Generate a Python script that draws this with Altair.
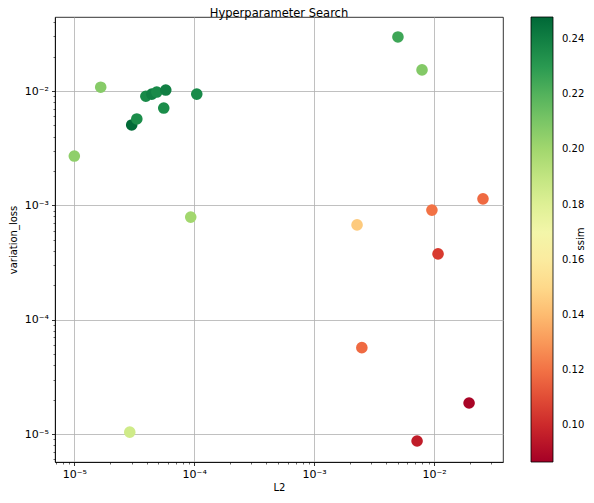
import altair as alt
import pandas as pd

# Data
l2 = [1.0e-5, 1.66e-5, 3.01e-5, 3.32e-5, 3.95e-5, 4.43e-5, 4.87e-5, 5.79e-5, 5.57e-5,
      1.05e-4, 9.35e-5, 2.9e-5, 5.0e-3, 7.94e-3, 2.28e-3, 9.6e-3, 2.56e-2, 1.08e-2,
      2.5e-3, 7.22e-3, 1.96e-2]
variation_loss = [2.7e-3, 1.08e-2, 5.05e-3, 5.7e-3, 9.0e-3, 9.4e-3, 9.8e-3, 1.02e-2, 7.1e-3,
                  9.4e-3, 7.9e-4, 1.04e-5, 2.97e-2, 1.53e-2, 6.75e-4, 9.1e-4, 1.14e-3, 3.77e-4,
                  5.7e-5, 8.7e-6, 1.87e-5]
ssim = [0.205, 0.207, 0.247, 0.235, 0.236, 0.240, 0.236, 0.240, 0.235,
        0.236, 0.200, 0.186, 0.225, 0.208, 0.145, 0.120, 0.118, 0.105,
        0.118, 0.096, 0.088]

x_major = [1e-5, 1e-4, 1e-3, 1e-2]
y_major = [1e-5, 1e-4, 1e-3, 1e-2]
x_minor = [7e-6, 8e-6, 9e-6] + [m * 10.0 ** e for e in (-5, -4, -3) for m in range(2, 10)] + [2e-2, 3e-2]
y_minor = [6e-6, 7e-6, 8e-6, 9e-6] + [m * 10.0 ** e for e in (-5, -4, -3) for m in range(2, 10)] + [2e-2, 3e-2, 4e-2]
ssim_ticks = [0.10, 0.12, 0.14, 0.16, 0.18, 0.20, 0.22, 0.24]

x_domain = [6.9e-6, 3.76e-2]
y_domain = [5.7e-6, 4.44e-2]
c_domain = [0.0867, 0.248]

chart_title = ["Hyperparameter Search"]
cbar_label = ["ssim"]

df = pd.DataFrame({"L2": l2, "variation_loss": variation_loss, "ssim": ssim})

label_expr = ("'10' + (round(log(datum.value)/LN10) == -5 ? '\u207b\u2075' : "
              "round(log(datum.value)/LN10) == -4 ? '\u207b\u2074' : "
              "round(log(datum.value)/LN10) == -3 ? '\u207b\u00b3' : '\u207b\u00b2')")

FONT = "DejaVu Sans"

xscale = alt.Scale(type="log", domain=x_domain, nice=False)
yscale = alt.Scale(type="log", domain=y_domain, nice=False)

points = alt.Chart(df).mark_circle(size=135, opacity=1).encode(
    x=alt.X("L2:Q", scale=xscale,
            axis=alt.Axis(values=x_major, labelExpr=label_expr, orient="bottom",
                          grid=True, gridColor="#b0b0b0", gridWidth=0.8,
                          tickSize=3.5, tickColor="black", tickWidth=0.8,
                          domainColor="black", domainWidth=0.8,
                          labelFont=FONT, labelFontSize=11, labelColor="black",
                          labelPadding=3, title="L2", titleFont=FONT,
                          titleFontSize=10, titleFontWeight="normal",
                          titleColor="black", titlePadding=3)),
    y=alt.Y("variation_loss:Q", scale=yscale,
            axis=alt.Axis(values=y_major, labelExpr=label_expr, orient="left",
                          grid=True, gridColor="#b0b0b0", gridWidth=0.8,
                          tickSize=3.5, tickColor="black", tickWidth=0.8,
                          domainColor="black", domainWidth=0.8,
                          labelFont=FONT, labelFontSize=11, labelColor="black",
                          labelPadding=3, title="variation_loss", titleFont=FONT,
                          titleFontSize=10, titleFontWeight="normal",
                          titleColor="black", titlePadding=6)),
    color=alt.Color("ssim:Q",
                    scale=alt.Scale(scheme="redyellowgreen", domain=c_domain, nice=False),
                    legend=alt.Legend(orient="none", legendX=476, legendY=0,
                                      direction="vertical", gradientLength=445,
                                      gradientThickness=22, values=ssim_ticks,
                                      format=".2f", labelFont=FONT, labelFontSize=10,
                                      labelColor="black", labelOffset=9,
                                      gradientStrokeColor="black", gradientStrokeWidth=0.8,
                                      title=None, labelOverlap=False)),
)

minor = alt.Chart(df).mark_circle(opacity=0).encode(
    x=alt.X("L2:Q", scale=xscale,
            axis=alt.Axis(values=x_minor, labels=False, grid=False, domain=False,
                          orient="bottom", tickSize=2, tickColor="black",
                          tickWidth=0.6, title=None)),
    y=alt.Y("variation_loss:Q", scale=yscale,
            axis=alt.Axis(values=y_minor, labels=False, grid=False, domain=False,
                          orient="left", tickSize=2, tickColor="black",
                          tickWidth=0.6, title=None)),
)

cbar_title = alt.Chart(pd.DataFrame({"t": cbar_label})).mark_text(
    angle=270, font=FONT, fontSize=10, color="black", align="center", baseline="middle"
).encode(text="t:N", x=alt.value(525.5), y=alt.value(222))

top_title = alt.Chart(pd.DataFrame({"t": chart_title})).mark_text(
    font=FONT, fontSize=11.5, color="black", align="center", baseline="alphabetic"
).encode(text="t:N", x=alt.value(224), y=alt.value(0))

chart = alt.layer(points, minor, cbar_title, top_title).resolve_axis(
    x="independent", y="independent"
).properties(
    width=448,
    height=445,
    autosize=alt.AutoSizeParams(type="none"),
    padding={"left": 47, "top": 9, "right": 83, "bottom": 38},
).configure_view(stroke="black", strokeWidth=0.8)

chart.save("out.html", embed_options={"renderer": "svg", "actions": False})
